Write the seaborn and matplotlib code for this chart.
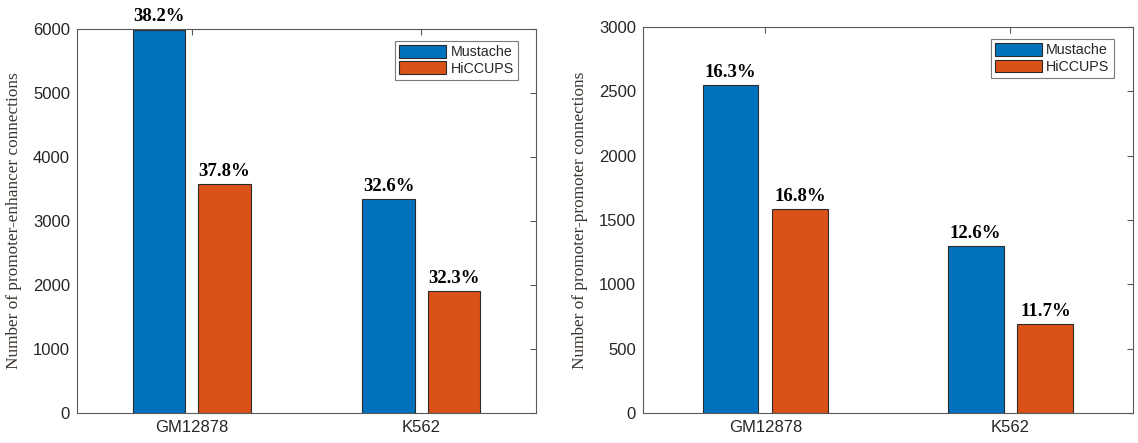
import matplotlib
matplotlib.use("Agg")
import matplotlib.pyplot as plt
import seaborn as sns
import pandas as pd

# Cell lines and loop callers
cells = ["GM12878", "K562"]
methods = ["Mustache", "HiCCUPS"]

# Promoter-enhancer connections
pe_mustache = [5990, 3340]
pe_hiccups = [3575, 1905]
pe_mustache_pct = ["38.2%", "32.6%"]
pe_hiccups_pct = ["37.8%", "32.3%"]

# Promoter-promoter connections
pp_mustache = [2550, 1298]
pp_hiccups = [1585, 692]
pp_mustache_pct = ["16.3%", "12.6%"]
pp_hiccups_pct = ["16.8%", "11.7%"]

colors = ["#0072BD", "#D95319"]

sns.set_style("white")
plt.rcParams["font.family"] = ["Liberation Sans", "DejaVu Sans"]

fig = plt.figure(figsize=(11.38, 4.43), dpi=100)
ax1 = fig.add_axes([0.0677, 0.0677, 0.4033, 0.8668])
ax2 = fig.add_axes([0.5650, 0.0677, 0.4306, 0.8713])


def make_frame(m_vals, h_vals):
    rows = []
    for c, v in zip(cells, m_vals):
        rows.append({"cell": c, "method": methods[0], "count": v})
    for c, v in zip(cells, h_vals):
        rows.append({"cell": c, "method": methods[1], "count": v})
    return pd.DataFrame(rows)


def draw(ax, m_vals, h_vals, m_pct, h_pct, ymax, step, ylabel):
    df = make_frame(m_vals, h_vals)
    sns.barplot(data=df, x="cell", y="count", hue="method", order=cells,
                hue_order=methods, palette=colors, width=0.57, gap=0.2,
                edgecolor="#2b2b2b", linewidth=0.8, saturation=1, ax=ax)
    for cont, labels in zip(ax.containers, [m_pct, h_pct]):
        for bar, lab in zip(cont, labels):
            ax.annotate(lab, (bar.get_x() + bar.get_width() / 2, bar.get_height()),
                        xytext=(0, 3), textcoords="offset points",
                        ha="center", va="bottom", fontsize=13.5, fontweight="bold",
                        family="Liberation Serif", color="black")
    ax.set_xlim(-0.5, 1.5)
    ax.set_ylim(0, ymax)
    ax.set_yticks(range(0, ymax + 1, step))
    ax.set_xlabel("")
    ax.set_ylabel(ylabel, family="Liberation Serif", fontsize=12.4, color="#3a3530",
                  labelpad=8)
    for s in ax.spines.values():
        s.set_visible(True)
        s.set_color("#5a5a5a")
        s.set_linewidth(0.8)
    ax.tick_params(direction="in", top=True, right=True, length=4, width=0.8,
                   color="#5a5a5a", labelsize=12, labelcolor="#262626", pad=5)
    leg = ax.legend(loc="upper right", bbox_to_anchor=(0.961, 0.969),
                    borderaxespad=0, frameon=True, fancybox=False,
                    edgecolor="#7a7a7a", framealpha=1, fontsize=10.3,
                    handlelength=3.3, handleheight=0.95, handletextpad=0.3,
                    labelspacing=0.15, borderpad=0.3)
    leg.get_frame().set_linewidth(0.8)


draw(ax1, pe_mustache, pe_hiccups, pe_mustache_pct, pe_hiccups_pct, 6000, 1000,
     "Number of promoter-enhancer connections")
draw(ax2, pp_mustache, pp_hiccups, pp_mustache_pct, pp_hiccups_pct, 3000, 500,
     "Number of promoter-promoter connections")

fig.savefig("out.png", dpi=100)
